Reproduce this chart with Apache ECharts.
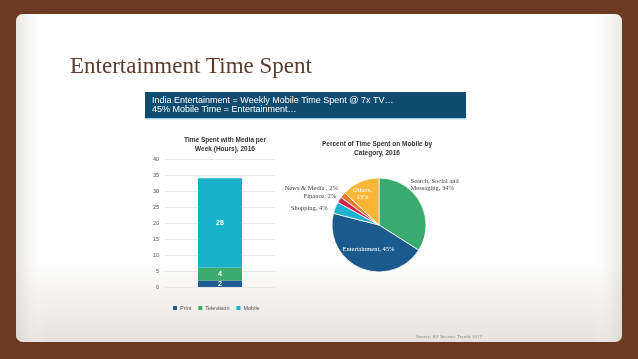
<!DOCTYPE html>
<html>
<head>
<meta charset="utf-8">
<script src="https://cdn.jsdelivr.net/npm/echarts@6/dist/echarts.min.js"></script>
<style>
html,body{margin:0;padding:0;background:#6b3a20;}
#c{width:638px;height:359px;}
</style>
</head>
<body>
<div id="c"></div>
<script>
// ---- data ----
const barCategories = ['2016'];
const barSeriesNames = ['Print', 'Television', 'Mobile'];
const printHours = [2];
const televisionHours = [4];
const mobileHours = [28];
const yMin = 0, yMax = 40, yInterval = 5;

const pieCategories = ['Search, Social and\nMessaging', 'Entertainment', 'Shopping', 'Finance', 'News & Media ', 'Others'];
const pieValues = [34, 45, 4, 2, 2, 13];

const slideTitle = 'Entertainment Time Spent';
const headerLines = ['India Entertainment = Weekly Mobile Time Spent @ 7x TV\u2026', '45% Mobile Time = Entertainment\u2026'];
const barTitle = 'Time Spent with Media per\nWeek (Hours), 2016';
const pieTitle = 'Percent of Time Spent on Mobile by\nCategory, 2016';
const sourceText = 'Source: KP Internet Trends 2017';

// ---- chart ----
const barColors = ['#1f5d91', '#3cad6e', '#19b1ca'];
const pieColors = ['#3aab6e', '#1b5a8c', '#1db2cf', '#d1264c', '#e07a2c', '#f8b536'];
const insideLabels = {'Entertainment': true, 'Others': true};
const labelShift = [[-21, -15], [0, 0], [4, 2], [8, -1], [6, -4], [-6, -7]];

const chart = echarts.init(document.getElementById('c'), null, {renderer: 'canvas'});

const sans = 'Liberation Sans, Arial, sans-serif';
const serif = 'Liberation Serif, Times New Roman, serif';

const option = {
  backgroundColor: '#6b3a20',
  animation: false,
  title: [
    {text: barTitle, left: 220, top: 131, textAlign: 'center',
     textStyle: {fontSize: 6.5, fontWeight: 'bold', color: '#333', fontFamily: sans, lineHeight: 9}},
    {text: pieTitle, left: 372, top: 134, textAlign: 'center',
     textStyle: {fontSize: 6.5, fontWeight: 'bold', color: '#333', fontFamily: sans, lineHeight: 9.5}}
  ],
  legend: {
    data: barSeriesNames,
    left: 168, top: 300,
    itemWidth: 4, itemHeight: 4, itemGap: 7,
    icon: 'rect',
    textStyle: {fontSize: 5.5, color: '#555', fontFamily: sans, padding: [0,0,0,-2]}
  },
  grid: {left: 165, right: 638 - 275, top: 159, bottom: 359 - 287, containLabel: false},
  xAxis: {
    type: 'category', data: barCategories,
    axisLine: {show: false}, axisTick: {show: false}, axisLabel: {show: false}
  },
  yAxis: {
    type: 'value', min: yMin, max: yMax, interval: yInterval,
    axisLine: {show: false}, axisTick: {show: false},
    axisLabel: {fontSize: 5.5, color: '#555', fontFamily: sans, margin: 6},
    splitLine: {lineStyle: {color: '#e6e6e6', width: 0.8}}
  },
  series: [
    {name: barSeriesNames[0], type: 'bar', stack: 't', data: printHours, barWidth: 44,
     itemStyle: {color: barColors[0]},
     label: {show: true, position: 'inside', color: '#fff', fontSize: 7, fontWeight: 'bold', fontFamily: sans}},
    {name: barSeriesNames[1], type: 'bar', stack: 't', data: televisionHours, barWidth: 44,
     itemStyle: {color: barColors[1]},
     label: {show: true, position: 'inside', color: '#fff', fontSize: 7, fontWeight: 'bold', fontFamily: sans}},
    {name: barSeriesNames[2], type: 'bar', stack: 't', data: mobileHours, barWidth: 44,
     itemStyle: {color: barColors[2]},
     label: {show: true, position: 'inside', color: '#fff', fontSize: 7, fontWeight: 'bold', fontFamily: sans}},
    {
      type: 'pie', center: [379, 225], radius: 47, startAngle: 90, clockwise: true,
      avoidLabelOverlap: false,
      itemStyle: {borderColor: '#fff', borderWidth: 0.8},
      labelLine: {show: false, length: 5, length2: 2},
      label: {fontFamily: serif, fontSize: 6.5, color: '#444', lineHeight: 7.5,
              formatter: p => p.name + ', ' + p.value + '%'},
      labelLayout: function (p) {
        const s = labelShift[p.dataIndex];
        return {dx: s[0], dy: s[1]};
      },
      data: pieCategories.map((n, i) => ({
        name: n, value: pieValues[i],
        itemStyle: {color: pieColors[i]},
        label: insideLabels[n] ? {position: 'inside', color: '#fff',
          formatter: n === 'Others' ? '{b},\n{c}%' : '{b}, {c}%'} : {position: 'outside'}
      }))
    }
  ],
  graphic: [
    {type: 'rect', z: -10, silent: true,
     shape: {x: 16, y: 14, width: 606, height: 328, r: 7},
     style: {fill: new echarts.graphic.LinearGradient(0, 0, 0, 1, [
       {offset: 0, color: '#ffffff'}, {offset: 0.75, color: '#ffffff'}, {offset: 1, color: '#e6e3de'}])}},
    {type: 'rect', z: -9, silent: true,
     shape: {x: 16, y: 14, width: 606, height: 328, r: 7},
     style: {fill: new echarts.graphic.LinearGradient(0, 0, 1, 0, [
       {offset: 0, color: 'rgba(215,212,205,0.6)'}, {offset: 0.05, color: 'rgba(255,255,255,0)'},
       {offset: 0.95, color: 'rgba(255,255,255,0)'}, {offset: 1, color: 'rgba(215,212,205,0.6)'}])}},
    {type: 'text', z: 5, left: 70, top: 55,
     style: {text: slideTitle, font: '23px "Liberation Serif", serif', fill: '#5b3b2e'}},
    {type: 'rect', z: 5, shape: {x: 145, y: 92, width: 321, height: 26}, style: {fill: '#0f4c70'}},
    {type: 'rect', z: 5, shape: {x: 145, y: 118, width: 321, height: 1.5}, style: {fill: '#a8dcec'}},
    {type: 'text', z: 6, left: 152, top: 96,
     style: {text: headerLines[0], font: '9px "Liberation Sans", Arial, sans-serif', fill: '#ffffff'}},
    {type: 'text', z: 6, left: 152, top: 105,
     style: {text: headerLines[1], font: '9px "Liberation Sans", Arial, sans-serif', fill: '#ffffff'}},
    {type: 'text', z: 5, left: 416, top: 334,
     style: {text: sourceText, font: '5px "Liberation Serif", serif', fill: '#8a8a8a'}}
  ]
};
chart.setOption(option);
</script>
</body>
</html>
